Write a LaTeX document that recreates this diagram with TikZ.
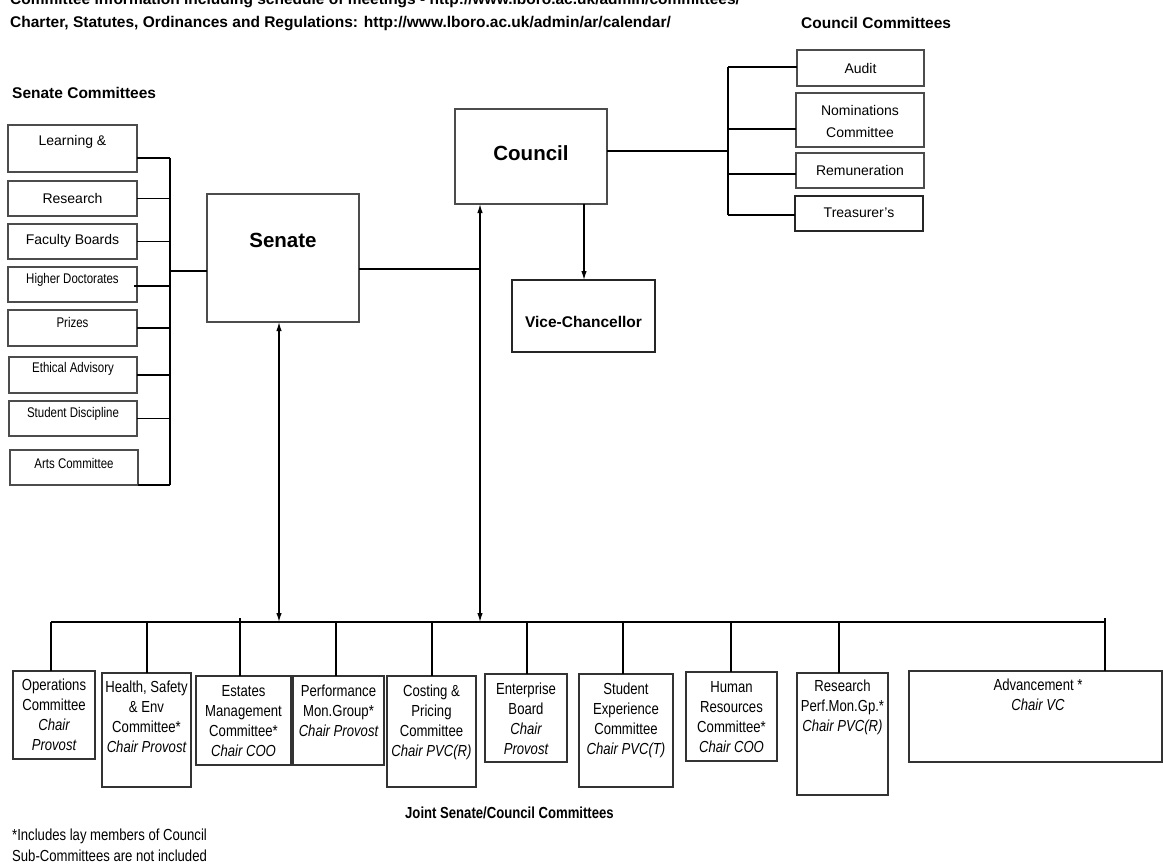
\documentclass[tikz,border=0pt]{standalone}
\usepackage{fontspec}
\setmainfont{Liberation Sans}
\newfontfamily\nar[FakeStretch=0.82]{Liberation Sans}
\usetikzlibrary{arrows.meta}
\begin{document}
\begin{tikzpicture}[x=1pt,y=-1pt,
 box/.style={draw=black!70,line width=1.4pt,anchor=north west,inner sep=0pt,outer sep=0pt},
 lnk/.style={draw=black,line width=1.3pt},
 arr/.style={lnk,{Latex[length=9pt,width=5.5pt]}-{Latex[length=9pt,width=5.5pt]}},
 sarr/.style={lnk,-{Latex[length=9pt,width=5.5pt]}},
 txt/.style={inner sep=0pt,font=\fontsize{14}{22}\selectfont,align=center},
 ntxt/.style={inner sep=0pt,font=\nar\fontsize{14}{17}\selectfont},
 btxt/.style={inner sep=0pt,anchor=north,align=center,font=\nar\fontsize{16}{20}\selectfont},
 hd/.style={inner sep=0pt,anchor=base west,font=\bfseries\fontsize{15.5}{18}\selectfont},
 big/.style={inner sep=0pt,font=\bfseries\fontsize{20.5}{24}\selectfont}]

\useasboundingbox (0,0) rectangle (1163,863);

% headings
\node[hd] (top0) at (10,4) {Committee information including schedule of meetings - http://www.lboro.ac.uk/admin/committees/};
\node[hd] (top1) at (10,27) {Charter, Statutes, Ordinances and Regulations: http://www.lboro.ac.uk/admin/ar/calendar/};
\node[hd] (cclab) at (801,28) {Council Committees};
\node[hd] (sclab) at (12,98) {Senate Committees};

% senate committees
\node[box,minimum width=129pt,minimum height=47pt] (lrn) at (8,125) {};
\node[txt] (lrnt) at (72.5,142) {Learning \&};
\node[box,minimum width=129pt,minimum height=35pt] (res) at (8,181) {};
\node[txt] (rest) at (72.5,198) {Research};
\node[box,minimum width=129pt,minimum height=35pt] (fac) at (8,224) {};
\node[txt] (fact) at (72.5,241) {Faculty Boards};
\node[box,minimum width=129pt,minimum height=35pt] (hdc) at (8,267) {};
\node[ntxt] (hdct) at (72.5,280) {Higher Doctorates};
\node[box,minimum width=129pt,minimum height=36pt] (prz) at (8,310) {};
\node[ntxt] (przt) at (72.5,322) {Prizes};
\node[box,minimum width=128pt,minimum height=36pt] (eth) at (9,357) {};
\node[ntxt] (etht) at (73,369) {Ethical Advisory};
\node[box,minimum width=128pt,minimum height=35pt] (stu) at (9,401) {};
\node[ntxt] (stut) at (73,414) {Student Discipline};
\node[box,minimum width=128pt,minimum height=35pt] (art) at (10,450) {};
\node[ntxt] (artt) at (74,463) {Arts Committee};

\coordinate (sbT) at (170,158);
\coordinate (sbB) at (170,485);
\coordinate (sbM) at (170,271);
\coordinate (sbH) at (170,286);
\draw[lnk] (sbT) -- (sbB);
\draw[lnk] (sbT -| lrn.east) -- (sbT);
\draw[lnk] (res.east) -- (res.east -| sbT);
\draw[lnk] (fac.east) -- (fac.east -| sbT);
\draw[lnk] ([xshift=-3pt]sbH -| hdc.east) -- (sbH);
\draw[lnk] (prz.east) -- (prz.east -| sbT);
\draw[lnk] (eth.east) -- (eth.east -| sbT);
\draw[lnk] (stu.east) -- (stu.east -| sbT);
\draw[lnk] (art.south east) -- (sbB);

% senate, council, VC
\node[box,minimum width=152pt,minimum height=128pt] (sen) at (207,194) {};
\node[big] (sent) at (283,240) {Senate};
\node[box,minimum width=152pt,minimum height=95pt] (cou) at (455,109) {};
\node[big] (cout) at (531,153) {Council};
\node[box,draw=black!85,minimum width=143pt,minimum height=72pt] (vc) at (512,280) {};
\node[inner sep=0pt,font=\bfseries\fontsize{15.5}{18}\selectfont] (vct) at (583.5,322) {Vice-Chancellor};

\draw[lnk] (sbM) -- (sbM -| sen.west);
\coordinate (sc) at (480,269);
\draw[lnk] (sc -| sen.east) -- (sc);
\coordinate (cv) at (480,622);
\draw[arr] (cv) -- (cv |- cou.south);
\coordinate (sv) at (279,622);
\draw[arr] (sv) -- (sv |- sen.south);
\coordinate (va) at (584,204);
\draw[sarr] (va) -- (va |- vc.north);

% council committees
\node[box,minimum width=127pt,minimum height=36pt] (aud) at (797,50) {};
\node[txt] (audt) at (860.5,68) {Audit};
\node[box,minimum width=128pt,minimum height=54pt] (nom) at (796,93) {};
\node[txt] (nomt) at (860,121) {Nominations\\Committee};
\node[box,minimum width=128pt,minimum height=35pt] (rem) at (796,153) {};
\node[txt] (remt) at (860,170) {Remuneration};
\node[box,draw=black!85,minimum width=128pt,minimum height=35pt] (tre) at (795,196) {};
\node[txt] (tret) at (859,213) {Treasurer's};

\coordinate (ccT) at (728,67);
\coordinate (ccB) at (728,215);
\coordinate (cc1) at (728,151);
\coordinate (cc2) at (728,129);
\coordinate (cc3) at (728,174);
\draw[lnk] (ccT) -- (ccB);
\draw[lnk] (cc1 -| cou.east) -- (cc1);
\draw[lnk] (ccT) -- (ccT -| aud.west);
\draw[lnk] (cc2) -- (cc2 -| nom.west);
\draw[lnk] (cc3) -- (cc3 -| rem.west);
\draw[lnk] (ccB) -- (ccB -| tre.west);

% joint committees
\node[box,draw=black!80,minimum width=82pt,minimum height=88pt] (op) at (13,671) {};
\node[btxt] (opt) at (54,679) {Operations\\Committee\\\itshape Chair\\\itshape Provost};
\node[box,draw=black!80,minimum width=89pt,minimum height=114pt] (hs) at (102,673) {};
\node[btxt] (hst) at (146.5,681) {Health, Safety\\\& Env\\Committee*\\\itshape Chair Provost};
\node[box,draw=black!80,minimum width=95pt,minimum height=89pt] (est) at (196,676) {};
\node[btxt] (estt) at (243.5,685) {Estates\\Management\\Committee*\\\itshape Chair COO};
\node[box,draw=black!80,minimum width=91pt,minimum height=89pt] (pm) at (293,676) {};
\node[btxt] (pmt) at (338.5,685) {Performance\\Mon.Group*\\\itshape Chair Provost};
\node[box,draw=black!80,minimum width=89pt,minimum height=111pt] (cp) at (387,676) {};
\node[btxt] (cpt) at (431.5,685) {Costing \&\\Pricing\\Committee\\\itshape Chair PVC(R)};
\node[box,draw=black!80,minimum width=82pt,minimum height=88pt] (ent) at (485,674) {};
\node[btxt] (entt) at (526,683) {Enterprise\\Board\\\itshape Chair\\\itshape Provost};
\node[box,draw=black!80,minimum width=94pt,minimum height=113pt] (se) at (579,674) {};
\node[btxt] (set) at (626,683) {Student\\Experience\\Committee\\\itshape Chair PVC(T)};
\node[box,draw=black!80,minimum width=91pt,minimum height=89pt] (hr) at (686,672) {};
\node[btxt] (hrt) at (731.5,681) {Human\\Resources\\Committee*\\\itshape Chair COO};
\node[box,draw=black!80,minimum width=91pt,minimum height=122pt] (rp) at (797,673) {};
\node[btxt] (rpt) at (842.5,680) {Research\\Perf.Mon.Gp.*\\\itshape Chair PVC(R)};
\node[box,draw=black!80,minimum width=253pt,minimum height=91pt] (adv) at (909,671) {};
\node[btxt] (advt) at (1038,679) {Advancement *\\\itshape Chair VC};

\coordinate (bL) at (51,622);
\coordinate (bR) at (1105,622);
\draw[lnk,line width=2pt] (bL) -- (bR);
\coordinate (d1) at (51,622);
\coordinate (d2) at (147,622);
\coordinate (d3) at (240,618);
\coordinate (d4) at (336,622);
\coordinate (d5) at (432,622);
\coordinate (d6) at (527,622);
\coordinate (d7) at (623,622);
\coordinate (d8) at (731,622);
\coordinate (d9) at (839,622);
\coordinate (d10) at (1105,618);
\draw[lnk] (d1) -- (d1 |- op.north);
\draw[lnk] (d2) -- (d2 |- hs.north);
\draw[lnk] (d3) -- (d3 |- est.north);
\draw[lnk] (d4) -- (d4 |- pm.north);
\draw[lnk] (d5) -- (d5 |- cp.north);
\draw[lnk] (d6) -- (d6 |- ent.north);
\draw[lnk] (d7) -- (d7 |- se.north);
\draw[lnk] (d8) -- (d8 |- hr.north);
\draw[lnk] (d9) -- (d9 |- rp.north);
\draw[lnk] (d10) -- (d10 |- adv.north);

\node[inner sep=0pt,anchor=base west,font=\nar\bfseries\fontsize{16}{20}\selectfont] (jl) at (405,818) {Joint Senate/Council Committees};
\node[inner sep=0pt,anchor=base west,font=\nar\fontsize{16}{20}\selectfont] (fn1) at (12,840) {*Includes lay members of Council};
\node[inner sep=0pt,anchor=base west,font=\nar\fontsize{16}{20}\selectfont] (fn2) at (12,861) {Sub-Committees are not included};
\end{tikzpicture}
\end{document}
